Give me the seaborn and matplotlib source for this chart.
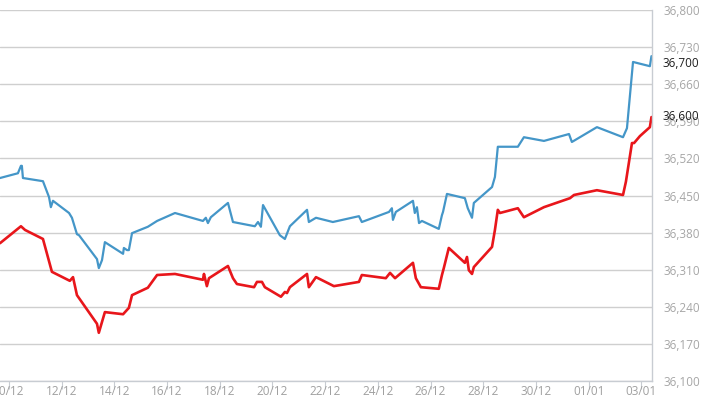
import matplotlib
matplotlib.use("Agg")
import matplotlib.pyplot as plt
import matplotlib.transforms as mtransforms
import seaborn as sns
import pandas as pd

# x = days since 10/12
blue_day = [-0.34, 0.34, 0.455, 0.49, 0.53, 1.29, 1.52, 1.59, 1.67, 2.28, 2.39, 2.58, 2.66,
            3.34, 3.41, 3.53, 3.64, 4.33, 4.36, 4.48, 4.55, 4.67, 5.27, 5.62, 6.30, 7.36,
            7.47, 7.55, 7.66, 8.31, 8.50, 9.33, 9.45, 9.56, 9.64, 10.28, 10.47, 10.66,
            11.31, 11.38, 11.65, 12.29, 13.28, 13.39, 14.42, 14.53, 14.57, 14.68, 15.33,
            15.40, 15.48, 15.56, 15.67, 16.31, 16.43, 16.47, 16.62, 17.30, 17.41, 17.57,
            17.64, 18.33, 18.44, 18.55, 19.31, 19.54, 20.30, 21.25, 21.36, 22.31, 23.30,
            23.45, 23.68, 24.32, 24.38]
blue_val = [36483, 36492, 36506, 36506, 36483, 36477, 36447, 36428, 36440, 36417, 36408, 36377, 36375,
            36330, 36313, 36328, 36362, 36340, 36351, 36347, 36347, 36379, 36391, 36402, 36417, 36402,
            36408, 36398, 36409, 36436, 36400, 36392, 36400, 36391, 36432, 36375, 36368, 36392,
            36423, 36400, 36408, 36400, 36411, 36400, 36419, 36426, 36404, 36419, 36440,
            36417, 36428, 36398, 36402, 36387, 36413, 36419, 36453, 36445, 36426, 36408,
            36436, 36466, 36485, 36542, 36542, 36560, 36553, 36566, 36551, 36579, 36560,
            36577, 36702, 36694, 36713]

red_day = [-0.34, 0.455, 0.61, 1.29, 1.63, 2.31, 2.43, 2.58, 3.34, 3.41, 3.64, 4.33, 4.55, 4.67,
           5.27, 5.62, 6.30, 7.36, 7.40, 7.51, 7.59, 8.31, 8.50, 8.65, 9.30, 9.41, 9.60, 9.71,
           10.32, 10.47, 10.55, 10.66, 11.31, 11.38, 11.65, 12.33, 13.28, 13.39, 14.30, 14.46,
           14.65, 15.33, 15.44, 15.63, 16.31, 16.43, 16.50, 16.69, 17.30, 17.38, 17.45, 17.57,
           17.64, 18.33, 18.44, 18.55, 18.63, 19.31, 19.54, 20.30, 21.29, 21.44, 22.31, 23.30,
           23.41, 23.64, 23.72, 23.94, 24.32, 24.38]
red_val = [36360, 36392, 36385, 36368, 36306, 36289, 36296, 36262, 36208, 36191, 36230, 36226, 36238, 36262,
           36276, 36300, 36302, 36291, 36302, 36279, 36294, 36317, 36294, 36283, 36277, 36287, 36287, 36277,
           36259, 36268, 36266, 36277, 36302, 36277, 36296, 36279, 36287, 36300, 36294, 36304,
           36294, 36323, 36294, 36277, 36274, 36300, 36313, 36351, 36323, 36334, 36309, 36302,
           36315, 36353, 36385, 36423, 36417, 36426, 36409, 36428, 36445, 36451, 36460, 36451,
           36476, 36549, 36549, 36562, 36579, 36598]

x_ticks = [0, 2, 4, 6, 8, 10, 12, 14, 16, 18, 20, 22, 24]
x_labels = ["10/12", "12/12", "14/12", "16/12", "18/12", "20/12", "22/12", "24/12",
            "26/12", "28/12", "30/12", "01/01", "03/01"]
y_ticks = [36100, 36170, 36240, 36310, 36380, 36450, 36520, 36590, 36660, 36730, 36800]
last_labels = [(36700, "36,700"), (36600, "36,600")]

sns.set_style("white")
plt.rcParams["font.family"] = ["Open Sans", "DejaVu Sans"]

df_blue = pd.DataFrame({"day": blue_day, "value": blue_val})
df_red = pd.DataFrame({"day": red_day, "value": red_val})

fig = plt.figure(figsize=(7.1, 3.99), dpi=100)
ax = fig.add_axes([0.0, 0.0451, 0.9183, 0.9298])

sns.lineplot(data=df_blue, x="day", y="value", ax=ax, color="#4496c8", linewidth=1.6,
             estimator=None, sort=False)
sns.lineplot(data=df_red, x="day", y="value", ax=ax, color="#e8161b", linewidth=1.9,
             estimator=None, sort=False)

ax.set_xlim(-0.34, 24.40)
ax.set_ylim(36100, 36800)
ax.set_xlabel("")
ax.set_ylabel("")

ax.set_yticks(y_ticks)
ax.set_yticklabels([f"{v:,}" for v in y_ticks])
ax.yaxis.tick_right()
ax.tick_params(axis="y", length=0, pad=8, labelsize=8.5, labelcolor="#a6a6a6")
ax.grid(axis="y", color="#cfcfcf", linewidth=1.0)
ax.grid(axis="x", visible=False)

ax.set_xticks(x_ticks)
ax.set_xticklabels(x_labels)
ax.tick_params(axis="x", direction="out", length=6, width=0.8, color="#c8ccd2",
               pad=-3, labelsize=8.5, labelcolor="#a0a0a0", bottom=True)

for side in ["left", "top"]:
    ax.spines[side].set_visible(False)
for side in ["right", "bottom"]:
    ax.spines[side].set_visible(True)
    ax.spines[side].set_color("#c8ccd2")
    ax.spines[side].set_linewidth(1.0)

trans = mtransforms.blended_transform_factory(ax.transAxes, ax.transData)
for v, t in last_labels:
    ax.text(1.0 + 11 / 652, v, t, transform=trans, ha="left", va="center",
            fontsize=8.5, color="#1e1e1e", fontweight="normal", clip_on=False)

fig.savefig("out.png", dpi=100, facecolor="white")
